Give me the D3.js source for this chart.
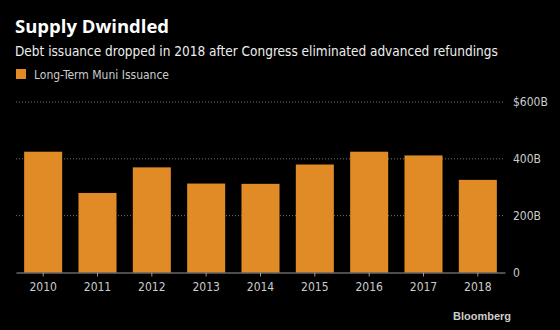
<!DOCTYPE html>
<html>
<head>
<meta charset="utf-8">
<script src="https://cdn.jsdelivr.net/npm/d3@7"></script>
<style>
  body { margin: 0; background: #000; }
  svg { display: block; }
</style>
</head>
<body>
<div id="chart"></div>
<script>
// data (billions of dollars)
var years = ["2010", "2011", "2012", "2013", "2014", "2015", "2016", "2017", "2018"];
var issuance = [425, 280, 370, 313, 312, 380, 425, 412, 326];
var yTicks = [0, 200, 400, 600];

var W = 560, H = 330;
var orange = "#E08B26";

var svg = d3.select("#chart").append("svg")
    .attr("width", W)
    .attr("height", H)
    .style("background", "#000");

// titles
svg.append("text")
    .attr("x", 15).attr("y", 33)
    .attr("fill", "#fff")
    .style("font-family", "'Open Sans', sans-serif")
    .style("font-weight", "bold")
    .style("font-size", "18.5px")
    .text("Supply Dwindled");

svg.append("text")
    .attr("x", 15).attr("y", 56)
    .attr("fill", "#eee")
    .style("font-family", "'DejaVu Sans Condensed', 'Roboto', sans-serif")
    .style("font-size", "13.5px")
    .text("Debt issuance dropped in 2018 after Congress eliminated advanced refundings");

// legend
svg.append("rect")
    .attr("x", 16).attr("y", 69)
    .attr("width", 10).attr("height", 10)
    .attr("fill", orange);
svg.append("text")
    .attr("x", 34).attr("y", 79)
    .attr("fill", "#ccc")
    .style("font-family", "'DejaVu Sans Condensed', 'Roboto', sans-serif")
    .style("font-size", "12px")
    .text("Long-Term Muni Issuance");

var x = d3.scaleBand()
    .domain(years)
    .range([16, 505])
    .paddingInner(0.3)
    .paddingOuter(0.15);

var y = d3.scaleLinear()
    .domain([0, 600])
    .range([272.5, 102]);

// grid lines
svg.append("g")
    .selectAll("line")
    .data(yTicks.filter(function (d) { return d > 0; }))
    .enter().append("line")
    .attr("x1", 16).attr("x2", 505)
    .attr("y1", function (d) { return y(d); })
    .attr("y2", function (d) { return y(d); })
    .attr("stroke", "#777")
    .attr("stroke-width", 1)
    .attr("stroke-dasharray", "1,2");

// bars
svg.append("g")
    .selectAll("rect")
    .data(issuance)
    .enter().append("rect")
    .attr("x", function (d, i) { return x(years[i]); })
    .attr("y", function (d) { return y(d); })
    .attr("width", x.bandwidth())
    .attr("height", function (d) { return y(0) - y(d); })
    .attr("fill", orange);

// x axis
var xAxis = svg.append("g")
    .attr("transform", "translate(0," + y(0) + ")")
    .call(d3.axisBottom(x).tickSize(4).tickPadding(6).tickSizeOuter(0));
xAxis.select(".domain").attr("stroke", "#999");
xAxis.selectAll(".tick line").attr("stroke", "#999");
xAxis.selectAll(".tick text")
    .attr("fill", "#ccc")
    .style("font-family", "'DejaVu Sans Condensed', 'Roboto', sans-serif")
    .style("font-size", "12px");

// y axis on the right
var yAxis = svg.append("g")
    .attr("transform", "translate(505,0)")
    .call(d3.axisRight(y).tickValues(yTicks).tickSize(0).tickPadding(8)
        .tickFormat(function (d) { return d === 0 ? "0" : (d === 600 ? "$" : "") + d + "B"; }));
yAxis.select(".domain").remove();
yAxis.selectAll(".tick text")
    .attr("fill", "#ccc")
    .style("font-family", "'DejaVu Sans Condensed', 'Roboto', sans-serif")
    .style("font-size", "12px");

// source logo
svg.append("text")
    .attr("x", 511).attr("y", 320)
    .attr("text-anchor", "end")
    .attr("fill", "#ccc")
    .style("font-family", "'Liberation Sans', Arial, sans-serif")
    .style("font-weight", "bold")
    .style("font-size", "11px")
    .text("Bloomberg");
</script>
</body>
</html>
